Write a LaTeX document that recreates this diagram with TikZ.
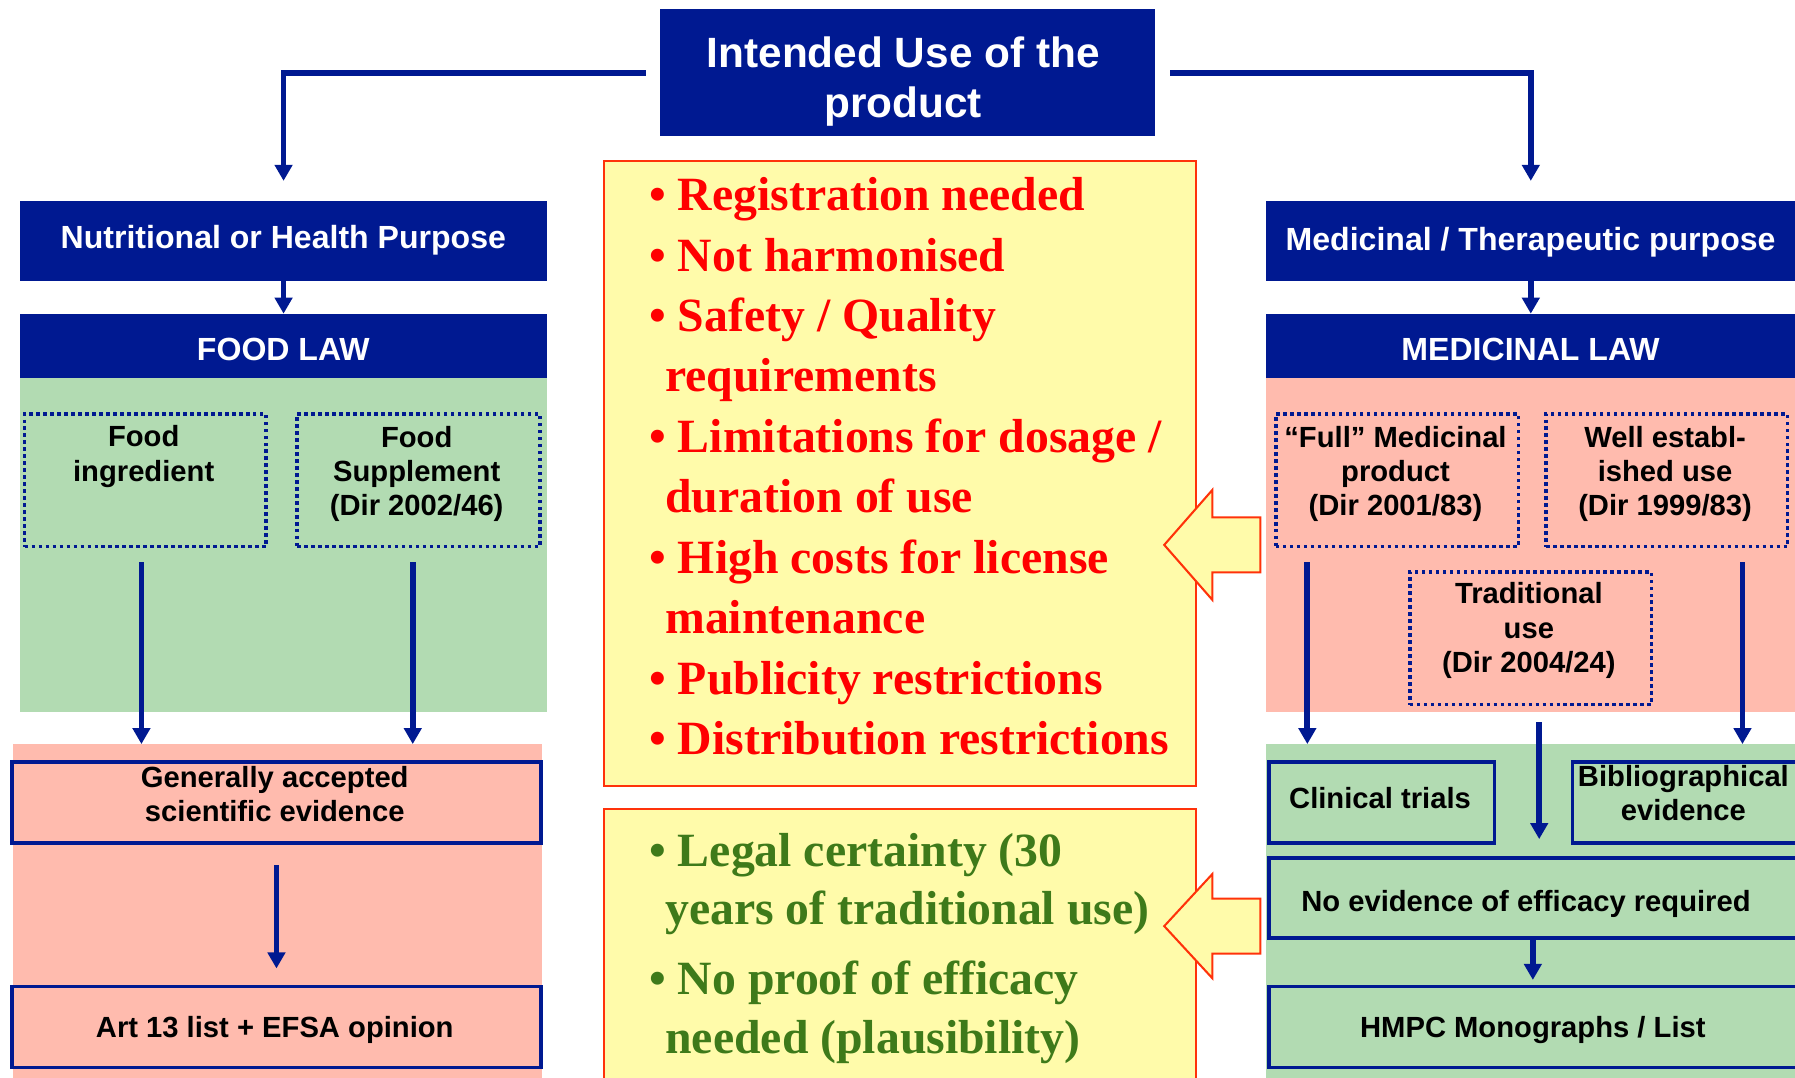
\documentclass[tikz,border=0pt]{standalone}
\usepackage{fontspec}
\setmainfont{Liberation Serif}
\setsansfont{Liberation Sans}
\usetikzlibrary{arrows.meta}
\definecolor{dblue}{RGB}{0,25,145}
\definecolor{lgreen}{RGB}{178,219,178}
\definecolor{salmon}{RGB}{255,187,174}
\definecolor{lyellow}{RGB}{255,251,170}
\definecolor{bred}{RGB}{255,50,10}
\definecolor{tgreen}{RGB}{62,122,26}
\begin{document}
\begin{tikzpicture}[x=1pt,y=-1pt,
  bluehead/.style={fill=dblue, inner sep=0pt, anchor=north west},
  wtext/.style={text=white, font=\sffamily\bfseries\fontsize{28}{33}\selectfont, inner sep=0pt, align=center},
  dotbox/.style={draw=dblue, line width=3.1pt, dash pattern=on 3.1pt off 3pt, anchor=north west, inner sep=0pt},
  solidbox/.style={draw=dblue, line width=3pt, anchor=north west, inner sep=0pt},
  btext/.style={font=\sffamily\bfseries\fontsize{25.5}{30}\selectfont, inner sep=0pt, align=center},
  panel/.style={anchor=north west, inner sep=0pt, draw=none},
  ybox/.style={fill=lyellow, draw=bred, line width=1.6pt, anchor=north west, inner sep=0pt},
  conn/.style={draw=dblue, line width=5pt, -{Triangle[width=15pt,length=14pt]}},
  redline/.style={anchor=base west, inner sep=0pt, text=red, font=\rmfamily\bfseries\fontsize{41.7}{50}\selectfont},
  grnline/.style={anchor=base west, inner sep=0pt, text=tgreen, font=\rmfamily\bfseries\fontsize{41.7}{50}\selectfont},
  blockarrow/.style={fill=lyellow, draw=bred, line width=1.8pt}
]
\useasboundingbox (0,0) rectangle (1568,941);

% title
\node[bluehead, minimum width=433pt, minimum height=111pt] (title) at (576,8) {};
\node[wtext, font=\sffamily\bfseries\fontsize{37}{44}\selectfont] (title-t) at (789,71.5) {Intended Use of the\\product};

% left column
\node[bluehead, minimum width=461pt, minimum height=70pt] (nut) at (17,175) {};
\node[wtext] (nut-t) at (247.5,210) {Nutritional or Health Purpose};
\node[bluehead, minimum width=461pt, minimum height=56pt] (food) at (17,274) {};
\node[wtext] (food-t) at (247.5,305) {FOOD LAW};
\node[panel, fill=lgreen, minimum width=461pt, minimum height=292pt] (lgp) at (17,330) {};
\node[dotbox, minimum width=211pt, minimum height=116pt] (fi) at (20,360) {};
\node[btext] (fi-t) at (125.5,411) {Food\\ingredient\\\mbox{}};
\node[dotbox, minimum width=212pt, minimum height=116pt] (fs) at (258,360) {};
\node[btext] (fs-t) at (364,414) {Food\\Supplement\\(Dir 2002/46)};
\node[panel, fill=salmon, minimum width=462pt, minimum height=300pt] (lsp) at (11,650) {};
\node[solidbox, minimum width=462pt, minimum height=71pt] (gen) at (9,664) {};
\node[btext] (gen-t) at (240,693.5) {Generally accepted\\scientific evidence};
\node[solidbox, minimum width=462pt, minimum height=71pt] (art) at (9,860) {};
\node[btext] (art-t) at (240,900) {Art 13 list + EFSA opinion};

% right column
\node[bluehead, minimum width=462pt, minimum height=70pt] (med) at (1106,175) {};
\node[wtext] (med-t) at (1337,212) {Medicinal / Therapeutic purpose};
\node[bluehead, minimum width=462pt, minimum height=56pt] (medlaw) at (1106,274) {};
\node[wtext] (medlaw-t) at (1337,305) {MEDICINAL LAW};
\node[panel, fill=salmon, minimum width=462pt, minimum height=292pt] (rsp) at (1106,330) {};
\node[dotbox, minimum width=212pt, minimum height=116pt] (full) at (1113,360) {};
\node[btext] (full-t) at (1219,414) {“Full” Medicinal\\product\\(Dir 2001/83)};
\node[dotbox, minimum width=211pt, minimum height=116pt] (well) at (1349,360) {};
\node[btext] (well-t) at (1454.5,414) {Well establ-\\ished use\\(Dir 1999/83)};
\node[dotbox, minimum width=211pt, minimum height=116pt] (trad) at (1230,498) {};
\node[btext] (trad-t) at (1335.5,551) {Traditional\\use\\(Dir 2004/24)};
\node[panel, fill=lgreen, minimum width=462pt, minimum height=300pt] (rgp) at (1106,650) {};
\node[solidbox, minimum width=197pt, minimum height=71pt] (clin) at (1107,664) {};
\node[btext] (clin-t) at (1205.5,697.5) {Clinical trials};
\node[solidbox, minimum width=197pt, minimum height=71pt] (bib) at (1372,664) {};
\node[btext] (bib-t) at (1470.5,693) {Bibliographical\\evidence};
\node[solidbox, minimum width=466pt, minimum height=70pt] (noev) at (1107,748) {};
\node[btext] (noev-t) at (1333,789.5) {No evidence of efficacy required};
\node[solidbox, minimum width=466pt, minimum height=71pt] (hmpc) at (1107,860) {};
\node[btext] (hmpc-t) at (1339,900) {HMPC Monographs / List};

% yellow boxes
\node[ybox, minimum width=517pt, minimum height=546pt] (y1) at (527,140) {};
\node[ybox, minimum width=517pt, minimum height=260pt] (y2) at (527,706) {};

\node[redline] (r1) at (567,184) {• Registration needed};
\node[redline] (r2) at (567,236.8) {• Not harmonised};
\node[redline] (r3) at (567,289.6) {• Safety / Quality};
\node[redline] (r4) at (581,342.4) {requirements};
\node[redline] (r5) at (567,395.2) {• Limitations for dosage /};
\node[redline] (r6) at (581,448) {duration of use};
\node[redline] (r7) at (567,500.8) {• High costs for license};
\node[redline] (r8) at (581,553.6) {maintenance};
\node[redline] (r9) at (567,606.4) {• Publicity restrictions};
\node[redline] (r10) at (567,659.2) {• Distribution restrictions};

\node[grnline] (g1) at (567,757) {• Legal certainty (30};
\node[grnline] (g2) at (581,808) {years of traditional use)};
\node[grnline] (g3) at (567,869) {• No proof of efficacy};
\node[grnline] (g4) at (581,920) {needed (plausibility)};

% block arrows
\filldraw[blockarrow] (1017,476) -- (1059,428) -- (1059,452) -- (1101,452) -- (1101,500) -- (1059,500) -- (1059,524) -- cycle;
\filldraw[blockarrow] (1017,809) -- (1059,763.5) -- (1059,785) -- (1101,785) -- (1101,833) -- (1059,833) -- (1059,854.5) -- cycle;

% connectors
\draw[conn] ([xshift=-12pt]title.west) -| ([yshift=17pt]nut.north);
\draw[conn] ([xshift=13pt]title.east) -| ([yshift=17pt]med.north);
\draw[conn] (nut.south) -- (food.north);
\draw[conn] (med.south) -- (medlaw.north);
\draw[conn] ([xshift=-3.5pt,yshift=-12pt]fi.south) -- ([xshift=-3.5pt]fi.south |- lsp.north);
\draw[conn] ([xshift=-5pt,yshift=-12pt]fs.south) -- ([xshift=-5pt]fs.south |- lsp.north);
\draw[conn] ([yshift=-18pt]gen.south) -- ([yshift=14pt]art.north);
\draw[conn] ([xshift=29pt,yshift=-12pt]full.south west) -- ([xshift=29pt]full.south west |- rgp.north);
\draw[conn] ([xshift=-41pt,yshift=-12pt]well.south east) -- ([xshift=-41pt]well.south east |- rgp.north);
\draw[conn] ([xshift=7.5pt,yshift=-14pt]trad.south) -- ([xshift=7.5pt,yshift=15pt]trad.south |- noev.north);
\draw[conn] ([xshift=-2.5pt]noev.south) -- ([xshift=-2.5pt,yshift=4pt]hmpc.north);
\end{tikzpicture}
\end{document}
